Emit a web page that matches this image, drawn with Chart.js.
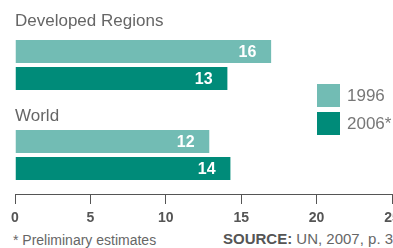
<!DOCTYPE html>
<html>
<head>
<meta charset="utf-8">
<script src="https://cdn.jsdelivr.net/npm/chart.js@4"></script>
<style>
  html, body { margin: 0; padding: 0; background: #fff; overflow: hidden; }
  body { width: 393px; height: 248px; position: relative; font-family: "Liberation Sans", Arial, sans-serif; color: #666; }
  #wrap { position: absolute; left: 0; top: 0; width: 410px; height: 224px; }
  #legend { position: absolute; left: 317px; top: 84px; }
  .item { display: flex; align-items: center; height: 23px; margin-bottom: 5px; font-size: 17px; color: #777; white-space: nowrap; }
  .swatch { width: 23px; height: 23px; margin-right: 7px; }
  .foot { position: absolute; top: 233px; font-size: 14px; line-height: 14px; color: #666; white-space: nowrap; }
</style>
</head>
<body>
<div id="wrap"><canvas id="chart"></canvas></div>
<div id="legend"></div>
<div class="foot" style="left:13px">* Preliminary estimates</div>
<div class="foot" style="left:223px; font-size:15px; top:232px"><b style="color:#555">SOURCE:</b> UN, 2007, p. 3</div>
<script>
// data
const categories = ['Developed Regions', 'World'];
const seriesNames = ['1996', '2006*'];
const values1996 = [17, 12.9];
const values2006 = [14.1, 14.3];
const labels1996 = ['16', '12'];
const labels2006 = ['13', '14'];
const xTicks = [0, 5, 10, 15, 20, 25];

const FONT = '"Liberation Sans", Arial, sans-serif';
const colors = ['#72bcb4', '#008b79'];

// value labels at the end of each bar
const valueLabels = {
  id: 'valueLabels',
  afterDatasetsDraw(chart) {
    const ctx = chart.ctx;
    ctx.save();
    ctx.font = 'bold 16px ' + FONT;
    ctx.fillStyle = '#fff';
    ctx.textAlign = 'right';
    ctx.textBaseline = 'middle';
    chart.data.datasets.forEach((ds, d) => {
      chart.getDatasetMeta(d).data.forEach((bar, i) => {
        ctx.fillText(ds.valueLabels[i], bar.x - 15, bar.y + 1);
      });
    });
    ctx.restore();
  }
};

// group titles above each pair of bars
const groupTitles = {
  id: 'groupTitles',
  afterDatasetsDraw(chart, args, opts) {
    const ctx = chart.ctx;
    const meta = chart.getDatasetMeta(0);
    ctx.save();
    ctx.font = '17px ' + FONT;
    ctx.fillStyle = '#666';
    ctx.textAlign = 'left';
    ctx.textBaseline = 'alphabetic';
    categories.forEach((name, i) => {
      const bar = meta.data[i];
      const top = bar.y - bar.height / 2;
      ctx.fillText(name, chart.chartArea.left, top - opts.offsets[i]);
    });
    ctx.restore();
  }
};

const barStyle = {
  barThickness: 27,
  borderWidth: { top: 2, bottom: 2, left: 0, right: 0 },
  borderColor: '#fff',
  inflateAmount: 0
};

const chart = new Chart(document.getElementById('chart'), {
  type: 'bar',
  data: {
    datasets: [
      Object.assign({
        label: seriesNames[0],
        data: values1996.map((v, i) => ({ x: v, y: i })),
        valueLabels: labels1996,
        backgroundColor: colors[0]
      }, barStyle),
      Object.assign({
        label: seriesNames[1],
        data: values2006.map((v, i) => ({ x: v, y: i })),
        valueLabels: labels2006,
        backgroundColor: colors[1]
      }, barStyle)
    ]
  },
  options: {
    indexAxis: 'y',
    responsive: true,
    maintainAspectRatio: false,
    animation: false,
    layout: { padding: { top: 20, left: 15, right: 18, bottom: 0 } },
    scales: {
      x: {
        min: 0,
        max: 25,
        afterBuildTicks: s => { s.ticks = xTicks.map(v => ({ value: v })); },
        afterFit: s => { s.height = 30; },
        ticks: { color: '#555', padding: 6, font: { family: FONT, size: 14, weight: 'bold' } },
        grid: { drawOnChartArea: false, tickLength: 10, color: '#555', lineWidth: 1 },
        border: { color: '#555', width: 1 }
      },
      y: {
        type: 'linear',
        reverse: true,
        bounds: 'data',
        display: false,
        // one category per unit, 90px apart, axis line under the second group
        afterDataLimits: s => { s.min = -0.5; s.max = 1.4333; },
        afterBuildTicks: s => { s.ticks = []; }
      }
    },
    plugins: {
      legend: { display: false },
      tooltip: { enabled: false },
      groupTitles: { offsets: [12, 7] }
    }
  },
  plugins: [valueLabels, groupTitles]
});

// html legend built from the datasets
const legend = document.getElementById('legend');
chart.data.datasets.forEach(ds => {
  const item = document.createElement('div');
  item.className = 'item';
  item.innerHTML = '<span class="swatch" style="background:' + ds.backgroundColor + '"></span>' + ds.label;
  legend.appendChild(item);
});
</script>
</body>
</html>
